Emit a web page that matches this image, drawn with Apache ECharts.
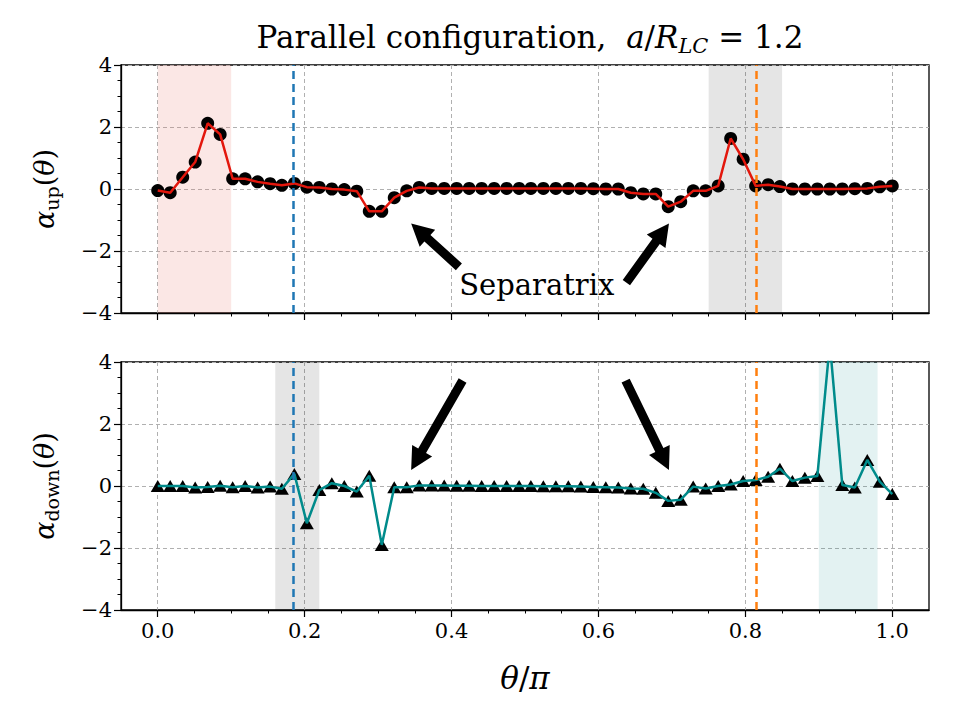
<!DOCTYPE html>
<html>
<head>
<meta charset="utf-8">
<script src="https://cdn.jsdelivr.net/npm/echarts@6/dist/echarts.min.js"></script>
<style>
html, body { margin: 0; background: #fff; }
#chart { width: 960px; height: 720px; }
</style>
</head>
<body>
<div id="chart"></div>
<script>
// theta / pi sampling points
var theta = [0, 0.017, 0.034, 0.051, 0.068, 0.085, 0.102, 0.119, 0.136, 0.153,
  0.169, 0.186, 0.203, 0.22, 0.237, 0.254, 0.271, 0.288, 0.305, 0.322,
  0.339, 0.356, 0.373, 0.39, 0.407, 0.424, 0.441, 0.458, 0.475, 0.492,
  0.508, 0.525, 0.542, 0.559, 0.576, 0.593, 0.61, 0.627, 0.644, 0.661,
  0.678, 0.695, 0.712, 0.729, 0.746, 0.763, 0.78, 0.797, 0.814, 0.831,
  0.847, 0.864, 0.881, 0.898, 0.915, 0.932, 0.949, 0.966, 0.983, 1.0];

// alpha_up(theta)
var alphaUp = [-0.05, -0.12, 0.38, 0.87, 2.12, 1.76, 0.33, 0.33, 0.23, 0.17,
  0.12, 0.18, 0.06, 0.05, 0.0, -0.02, -0.07, -0.72, -0.72, -0.28,
  -0.06, 0.05, 0.02, 0.02, 0.02, 0.02, 0.02, 0.02, 0.02, 0.02,
  0.02, 0.02, 0.02, 0.02, 0.02, 0.01, 0.0, 0.0, -0.12, -0.16,
  -0.16, -0.57, -0.41, -0.06, -0.06, 0.1, 1.63, 0.96, 0.1, 0.14,
  0.08, 0.0, 0.0, 0.0, 0.0, 0.0, 0.01, 0.02, 0.07, 0.1];

// alpha_down(theta)
var alphaDown = [0, 0, 0, -0.05, -0.03, 0.01, -0.04, 0, -0.05, -0.02,
  -0.09, 0.39, -1.2, -0.13, 0.09, 0, -0.18, 0.33, -1.9, -0.04,
  -0.04, 0.02, 0.02, 0.02, 0.01, 0.01, 0.0, 0.0, 0.0, 0.0,
  0.0, -0.01, -0.01, -0.01, -0.02, -0.03, -0.04, -0.05, -0.08, -0.09,
  -0.22, -0.48, -0.44, -0.02, -0.08, 0.0, 0.05, 0.16, 0.19, 0.3,
  0.56, 0.16, 0.27, 0.32, 4.6, 0.03, -0.05, 0.84, 0.14, -0.26];

var xTicks = [0, 0.2, 0.4, 0.6, 0.8, 1.0];
var xMinor = [0.05, 0.1, 0.15, 0.25, 0.3, 0.35, 0.45, 0.5, 0.55, 0.65, 0.7, 0.75, 0.85, 0.9, 0.95];

// vertical markers and shaded bands
var sepBlue = 0.185;
var sepOrange = 0.815;
var upBands = [[0.0, 0.1, 'rgba(235,120,110,0.18)'], [0.75, 0.85, 'rgba(0,0,0,0.1)']];
var downBands = [[0.16, 0.22, 'rgba(0,0,0,0.1)'], [0.9, 0.98, 'rgba(0,139,139,0.11)']];

// annotation arrows [tail, tip] in data coords
var upArrows = [[[0.410, -2.51], [0.345, -1.11]], [[0.638, -3.02], [0.696, -1.11]]];
var downArrows = [[[0.415, 3.40], [0.345, 0.52]], [[0.637, 3.40], [0.696, 0.52]]];
var sepLabel = [0.516, -3.1];

var SERIF = '"DejaVu Serif", "Liberation Serif", serif';
var chart = echarts.init(document.getElementById('chart'), null, {renderer: 'svg'});

var gridLine = {show: true, lineStyle: {color: '#b0b0b0', width: 1, type: [4, 3]}};
var blackLine = {color: '#000', width: 1.3};

function pairs(ys) {
    return theta.map(function (t, i) { return [t, ys[i]]; });
}

function mainX(gi, withLabels) {
    var ax = {
        type: 'value', gridIndex: gi, min: -0.05, max: 1.05, position: 'bottom',
        axisLine: {show: true, onZero: false, lineStyle: blackLine},
        axisTick: {show: true, length: 7, customValues: xTicks, lineStyle: {color: '#000', width: 1.2}},
        axisLabel: {show: withLabels, customValues: xTicks, color: '#000', fontFamily: SERIF, fontSize: 21, margin: 10,
            formatter: function (v) { return v.toFixed(1); }},
        splitLine: gridLine
    };
    if (withLabels) {
        ax.name = '{i|θ}{r|/}{i|π}';
        ax.nameLocation = 'middle';
        ax.nameGap = 52;
        ax.nameTextStyle = {color: '#000', rich: {
            i: {fontFamily: SERIF, fontStyle: 'italic', fontSize: 31, color: '#000'},
            r: {fontFamily: SERIF, fontSize: 31, color: '#000'}
        }};
    }
    return ax;
}

function minorX(gi) {
    return {
        type: 'value', gridIndex: gi, min: -0.05, max: 1.05, position: 'bottom',
        axisLine: {show: false, onZero: false},
        axisTick: {show: true, length: 3.5, customValues: xMinor, lineStyle: {color: '#000', width: 1}},
        axisLabel: {show: false},
        splitLine: {show: false}
    };
}

function yAx(gi, sub) {
    return {
        type: 'value', gridIndex: gi, min: -4, max: 4, interval: 2,
        axisLine: {show: true, onZero: false, lineStyle: blackLine},
        axisTick: {show: true, length: 7, lineStyle: {color: '#000', width: 1.2}},
        minorTick: {show: true, splitNumber: 4, length: 3.5, lineStyle: {color: '#000', width: 1}},
        axisLabel: {color: '#000', fontFamily: SERIF, fontSize: 21, margin: 9,
            formatter: function (v) { return v < 0 ? '\u2212' + Math.abs(v) : String(v); }},
        splitLine: gridLine,
        name: '{i|α}{s|' + sub + '}{r|(}{i|θ}{r|)}',
        nameLocation: 'middle',
        nameGap: 60,
        nameRotate: 90,
        nameTextStyle: {color: '#000', rich: {
            i: {fontFamily: SERIF, fontStyle: 'italic', fontSize: 27, lineHeight: 34, color: '#000'},
            r: {fontFamily: SERIF, fontSize: 27, lineHeight: 34, color: '#000'},
            s: {fontFamily: SERIF, fontSize: 19, lineHeight: 17, verticalAlign: 'bottom', color: '#000'}
        }}
    };
}

function bands(list) {
    return {
        silent: true,
        data: list.map(function (b) {
            return [{xAxis: b[0], itemStyle: {color: b[2]}}, {xAxis: b[1]}];
        })
    };
}

var vLines = {
    silent: true,
    precision: 4,
    symbol: ['none', 'none'],
    label: {show: false},
    lineStyle: {type: [8, 5], width: 2.5},
    data: [
        {xAxis: sepBlue, lineStyle: {color: '#1f77b4'}},
        {xAxis: sepOrange, lineStyle: {color: '#ff7f0e'}}
    ]
};

chart.setOption({
    animation: false,
    backgroundColor: '#fff',
    grid: [
        {left: 121, width: 808, top: 65, height: 248, show: true, borderColor: '#000', borderWidth: 1.3},
        {left: 121, width: 808, top: 362, height: 248, show: true, borderColor: '#000', borderWidth: 1.3}
    ],
    xAxis: [mainX(0, false), minorX(0), mainX(1, true), minorX(1)],
    yAxis: [yAx(0, 'up'), yAx(1, 'down')],
    series: [
        {type: 'scatter', xAxisIndex: 0, yAxisIndex: 0, data: pairs(alphaUp), symbol: 'circle', symbolSize: 13,
            itemStyle: {color: '#000', opacity: 1}, z: 2, markArea: bands(upBands)},
        {type: 'line', xAxisIndex: 0, yAxisIndex: 0, data: pairs(alphaUp), showSymbol: false,
            lineStyle: {color: '#e3170d', width: 2.5}, itemStyle: {color: '#e3170d'}, z: 3, markLine: vLines},
        {type: 'scatter', xAxisIndex: 2, yAxisIndex: 1, data: pairs(alphaDown), symbol: 'triangle', symbolSize: [14, 12],
            itemStyle: {color: '#000', opacity: 1}, z: 2, markArea: bands(downBands)},
        {type: 'line', xAxisIndex: 2, yAxisIndex: 1, data: pairs(alphaDown), showSymbol: false,
            lineStyle: {color: '#008b8b', width: 2.5}, itemStyle: {color: '#008b8b'}, z: 3, markLine: vLines}
    ]
});

// arrow polygon from tail to tip
function arrowShape(p0, p1) {
    var dx = p1[0] - p0[0], dy = p1[1] - p0[1];
    var len = Math.sqrt(dx * dx + dy * dy);
    var ux = dx / len, uy = dy / len, nx = -uy, ny = ux;
    var w = 4.5, hw = 11.5, hl = 22;
    var bx = p1[0] - ux * hl, by = p1[1] - uy * hl;
    return [
        [p0[0] + nx * w, p0[1] + ny * w],
        [bx + nx * w, by + ny * w],
        [bx + nx * hw, by + ny * hw],
        p1,
        [bx - nx * hw, by - ny * hw],
        [bx - nx * w, by - ny * w],
        [p0[0] - nx * w, p0[1] - ny * w]
    ];
}

var graphics = [];
function addArrows(list, finder) {
    list.forEach(function (a) {
        var t0 = chart.convertToPixel(finder, a[0]);
        var t1 = chart.convertToPixel(finder, a[1]);
        graphics.push({type: 'polygon', shape: {points: arrowShape(t0, t1)}, style: {fill: '#000'}, z: 10});
    });
}
addArrows(upArrows, {xAxisIndex: 0, yAxisIndex: 0});
addArrows(downArrows, {xAxisIndex: 2, yAxisIndex: 1});

var sp = chart.convertToPixel({xAxisIndex: 0, yAxisIndex: 0}, sepLabel);
graphics.push({type: 'text', x: sp[0], y: sp[1], z: 10,
    style: {text: 'Separatrix', fontFamily: SERIF, fontSize: 29, fill: '#000', align: 'center', verticalAlign: 'middle'}});

// title
graphics.push({type: 'text', x: 530, y: 37, z: 10, style: {
    text: '{r|Parallel configuration,  }{i|a}{r|/}{i|R}{s|LC}{r| = 1.2}',
    align: 'center', verticalAlign: 'middle',
    rich: {
        r: {fontFamily: SERIF, fontSize: 31, lineHeight: 38, fill: '#000'},
        i: {fontFamily: SERIF, fontSize: 31, lineHeight: 38, fontStyle: 'italic', fill: '#000'},
        s: {fontFamily: SERIF, fontSize: 21, lineHeight: 19, fontStyle: 'italic', verticalAlign: 'bottom', fill: '#000'}
    }
}});

chart.setOption({graphic: graphics});
</script>
</body>
</html>
